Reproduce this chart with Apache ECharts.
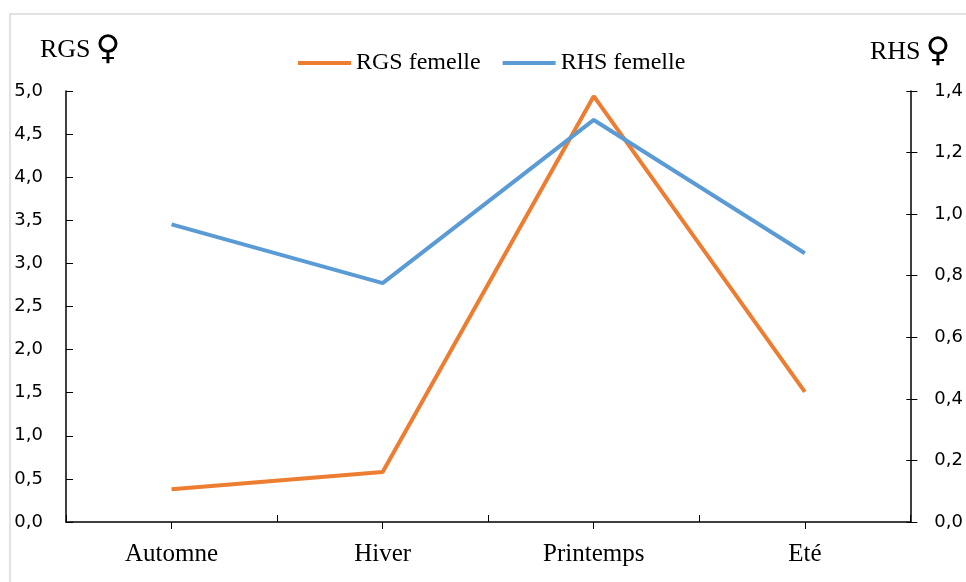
<!DOCTYPE html>
<html>
<head>
<meta charset="utf-8">
<script src="https://cdn.jsdelivr.net/npm/echarts@6/dist/echarts.min.js"></script>
<style>
  html, body { margin: 0; padding: 0; background: #fff; }
  #chart { width: 966px; height: 582px; }
</style>
</head>
<body>
<div id="chart"></div>
<script>
// Seasons on the x axis
const seasons = ['Automne', 'Hiver', 'Printemps', 'Eté'];
// Gonadosomatic index (left axis)
const rgsFemelle = [0.38, 0.58, 4.94, 1.51];
// Hepatosomatic index (right axis)
const rhsFemelle = [0.967, 0.776, 1.306, 0.873];
const leftAxisName = 'RGS';
const rightAxisName = 'RHS';
const femaleSign = '♀';

const serif = 'Liberation Serif';
const sans = 'DejaVu Sans';
const fmt = v => v.toFixed(1).replace('.', ',');

const nameRich = {
  n: { fontFamily: serif, fontSize: 26, color: '#000' },
  s: { fontFamily: 'DejaVu Sans', fontSize: 34, color: '#666', padding: [0, 0, 0, 5] }
};

const chart = echarts.init(document.getElementById('chart'));
chart.setOption({
  animation: false,
  backgroundColor: '#ffffff',
  textStyle: { fontFamily: serif },
  grid: { left: 66, right: 53, top: 91, bottom: 60, containLabel: false },
  legend: {
    left: 293, top: 46,
    icon: 'rect', itemWidth: 53, itemHeight: 4, itemGap: 22,
    formatter: '{t|{name}}',
    textStyle: {
      fontFamily: serif, fontSize: 24, color: '#000',
      rich: { t: { fontFamily: serif, fontSize: 24, color: '#000' } }
    },
    data: ['RGS femelle', 'RHS femelle']
  },
  graphic: [
    { type: 'rect', shape: { x: 10, y: 14, width: 1000, height: 600 },
      style: { fill: 'none', stroke: '#d9d9d9', lineWidth: 1.5 }, silent: true },
    { type: 'text', left: 40, top: 33,
      style: { text: '{n|' + leftAxisName + '}{s|' + femaleSign + '}', rich: nameRich } },
    { type: 'text', left: 870, top: 35,
      style: { text: '{n|' + rightAxisName + '}{s|' + femaleSign + '}', rich: nameRich } }
  ],
  xAxis: [
    {
      type: 'category', data: seasons, boundaryGap: true,
      axisLine: { lineStyle: { color: '#000', width: 1.5 } },
      axisTick: { show: true, inside: true, length: 7, alignWithLabel: false,
                  lineStyle: { color: '#000', width: 1 } },
      axisLabel: { fontFamily: serif, fontSize: 25, color: '#000', margin: 20 }
    },
    {
      type: 'category', data: seasons, boundaryGap: true, position: 'bottom',
      axisLine: { show: false },
      axisTick: { show: true, inside: false, length: 7, alignWithLabel: true,
                  lineStyle: { color: '#000', width: 1 } },
      axisLabel: { show: false }
    }
  ],
  yAxis: [
    {
      type: 'value', min: 0, max: 5, interval: 0.5, position: 'left',
      splitLine: { show: false },
      axisLine: { show: true, lineStyle: { color: '#000', width: 1.5 } },
      axisTick: { show: true, inside: true, length: 7, lineStyle: { color: '#000' } },
      axisLabel: { fontFamily: sans, fontSize: 18, color: '#000', margin: 23, formatter: fmt }
    },
    {
      type: 'value', min: 0, max: 1.4, interval: 0.2, position: 'right',
      splitLine: { show: false },
      axisLine: { show: true, lineStyle: { color: '#000', width: 1.5 } },
      axisTick: { show: true, inside: false, length: 7, lineStyle: { color: '#000' } },
      axisLabel: { fontFamily: sans, fontSize: 18, color: '#000', margin: 24, formatter: fmt }
    },
    {
      type: 'value', min: 0, max: 1.4, interval: 0.2, position: 'right',
      splitLine: { show: false },
      axisLine: { show: false },
      axisTick: { show: true, inside: true, length: 4, lineStyle: { color: '#000' } },
      axisLabel: { show: false }
    }
  ],
  series: [
    {
      name: 'RGS femelle', type: 'line', xAxisIndex: 0, yAxisIndex: 0,
      data: rgsFemelle, symbol: 'none', smooth: false,
      itemStyle: { color: '#ED7D31' },
      lineStyle: { color: '#ED7D31', width: 4 }
    },
    {
      name: 'RHS femelle', type: 'line', xAxisIndex: 0, yAxisIndex: 1,
      data: rhsFemelle, symbol: 'none', smooth: false,
      itemStyle: { color: '#5B9BD5' },
      lineStyle: { color: '#5B9BD5', width: 4 }
    }
  ]
});
</script>
</body>
</html>
